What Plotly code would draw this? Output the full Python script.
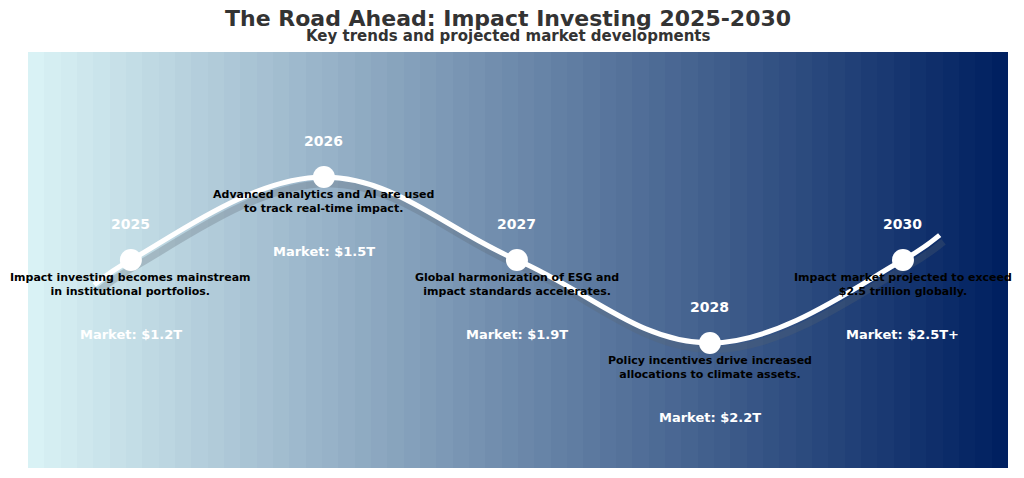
import plotly.graph_objects as go
import numpy as np

years = ["2025", "2026", "2027", "2028", "2030"]
positions = [0, 1, 2, 3, 4]
levels = [0, 1, 0, -1, 0]
descriptions = [
    "Impact investing becomes mainstream<br>in institutional portfolios.",
    "Advanced analytics and AI are used<br>to track real-time impact.",
    "Global harmonization of ESG and<br>impact standards accelerates.",
    "Policy incentives drive increased<br>allocations to climate assets.",
    "Impact market projected to exceed<br>$2.5 trillion globally.",
]
markets = ["Market: $1.2T", "Market: $1.5T", "Market: $1.9T", "Market: $2.2T", "Market: $2.5T+"]

# road path control points (decorative curve)
road_x = [-0.19, 0, 1, 2, 3, 4, 4.19]
road_y = [-0.3, 0, 1, 0, -1, 0, 0.3]

XR = [-0.533, 4.544]
YR = [-2.506, 2.506]
F = "DejaVu Sans"

fig = go.Figure()

nb = 60
bx = np.linspace(XR[0], XR[1], nb + 1)
fig.add_trace(go.Heatmap(
    x=bx, y=YR, z=[list(range(nb)), list(range(nb))],
    colorscale=[[0, "#d9f2f5"], [1, "#002060"]], showscale=False, hoverinfo="skip",
))

fig.add_trace(go.Scatter(x=[v + 0.02 for v in road_x], y=[v - 0.08 for v in road_y],
                         mode="lines", line=dict(color="rgba(90,100,110,0.28)", width=7, shape="spline", smoothing=1.1),
                         hoverinfo="skip", showlegend=False))
fig.add_trace(go.Scatter(x=road_x, y=road_y, mode="lines",
                         line=dict(color="white", width=5, shape="spline", smoothing=1.1),
                         hoverinfo="skip", showlegend=False))
fig.add_trace(go.Scatter(x=positions, y=levels, mode="markers",
                         marker=dict(color="white", size=22), showlegend=False))

for x, y, yr, d, m in zip(positions, levels, years, descriptions, markets):
    fig.add_annotation(x=x, y=y + 0.43, text=f"<b>{yr}</b>", showarrow=False,
                       font=dict(family=F, size=14, color="white"))
    fig.add_annotation(x=x, y=y - 0.3, text=f"<b>{d}</b>", showarrow=False,
                       font=dict(family=F, size=11, color="black"))
    fig.add_annotation(x=x, y=y - 0.9, text=f"<b>{m}</b>", showarrow=False,
                       font=dict(family=F, size=13, color="white"))

fig.add_annotation(x=0.49, y=1.0817, xref="paper", yref="paper", yanchor="middle", showarrow=False,
                   text="<b>The Road Ahead: Impact Investing 2025-2030</b>",
                   font=dict(family=F, size=22, color="#333333"))
fig.add_annotation(x=0.49, y=1.0385, xref="paper", yref="paper", yanchor="middle", showarrow=False,
                   text="<b>Key trends and projected market developments</b>",
                   font=dict(family=F, size=15, color="#333333"))

fig.update_layout(
    width=1024, height=478,
    margin=dict(l=20, r=24, t=44, b=18),
    paper_bgcolor="white", plot_bgcolor="white",
    xaxis=dict(range=XR, visible=False, fixedrange=True),
    yaxis=dict(range=YR, visible=False, fixedrange=True),
    showlegend=False,
)
fig.write_html("out.html")
